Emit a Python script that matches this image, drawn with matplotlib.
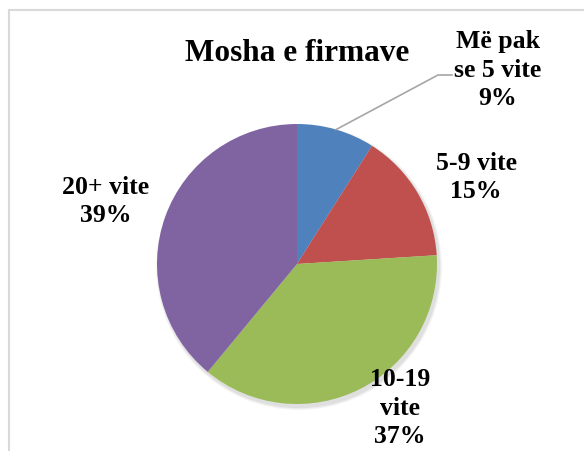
import numpy as np
import matplotlib
matplotlib.use("Agg")
import matplotlib.pyplot as plt
from matplotlib.patches import Rectangle

# data
categories = ["Më pak\nse 5 vite", "5-9 vite", "10-19\nvite", "20+ vite"]
shares = [9, 15, 37, 39]
colors = ["#4F81BD", "#C0504D", "#9BBB59", "#8064A2"]

W, H = 584, 452
plt.rcParams["font.family"] = ["Liberation Serif", "DejaVu Serif"]

fig = plt.figure(figsize=(W / 100, H / 100), dpi=100)
ax = fig.add_axes([0, 0, 1, 1])

cx, cy, r = 297, H - 265, 140

# soft shadow
for k, a in enumerate([0.04, 0.04, 0.05]):
    ax.pie([1], radius=r + 3 - k, center=(cx + 2, cy - 3), colors=["black"],
           wedgeprops=dict(alpha=a, linewidth=0), frame=True)

wedges, _ = ax.pie(shares, colors=colors, startangle=90, counterclock=False,
                   radius=r, center=(cx, cy), frame=True,
                   wedgeprops=dict(linewidth=0))
ax.set_xlim(0, W)
ax.set_ylim(0, H)
ax.set_aspect("equal")
ax.axis("off")

# chart border
ax.add_patch(Rectangle((8.5, -5), W, H - 10 + 5 - 0.5, fill=False,
                       edgecolor="#D9D9D9", linewidth=1.5))

# labels (x centre, baseline of the last line)
label_pos = [(498, H - 105), (476, H - 198), (400, H - 443), (106, H - 222)]
for cat, s, (lx, ly) in zip(categories, shares, label_pos):
    ax.text(lx, ly, f"{cat}\n{s}%", ha="center", va="baseline",
            fontsize=18.5, fontweight="bold", linespacing=1.3)

# leader line for the first slice
w0 = wedges[0]
mid = np.deg2rad((w0.theta1 + w0.theta2) / 2)
px, py = cx + r * np.cos(mid), cy + r * np.sin(mid)
ax.plot([px, 438, 452], [py, H - 76, H - 76], color="#A6A6A6", linewidth=1.2)

ax.text(297.5, H - 61, "Mosha e firmave", ha="center", va="baseline",
        fontsize=22.5, fontweight="bold")

fig.savefig("out.png", dpi=100)
